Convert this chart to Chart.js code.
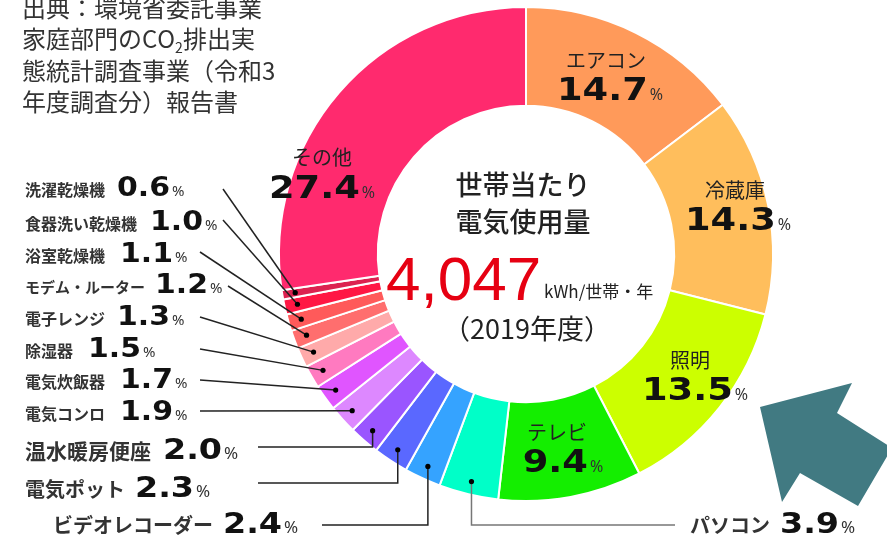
<!DOCTYPE html>
<html lang="ja">
<head>
<meta charset="utf-8">
<script src="https://cdn.jsdelivr.net/npm/chart.js@4.4.0/dist/chart.umd.min.js"></script>
<style>
html, body { margin: 0; padding: 0; background: #fff; }
#wrap { width: 887px; height: 540px; overflow: hidden; }
</style>
</head>
<body>
<div id="wrap"><canvas id="g_denki" width="887" height="540"></canvas></div>
<script>
// 家電別の電気使用量の割合(%) - 12時の位置から時計回り
const kaden = ['エアコン', '冷蔵庫', '照明', 'テレビ', 'パソコン', 'ビデオレコーダー', '電気ポット', '温水暖房便座',
    '電気コンロ', '電気炊飯器', '除湿器', '電子レンジ', 'モデム・ルーター', '浴室乾燥機', '食器洗い乾燥機', '洗濯乾燥機', 'その他'];
const wariai = [14.7, 14.3, 13.5, 9.4, 3.9, 2.4, 2.3, 2.0, 1.9, 1.7, 1.5, 1.3, 1.2, 1.1, 1.0, 0.6, 27.4];
const iro = ['#FF9A5A', '#FFBE5C', '#CCFF00', '#14EE00', '#00FFC8', '#35A3FF', '#5A68FF', '#9A55FF',
    '#DD88FF', '#E055FF', '#FF7AC0', '#FFAAAA', '#FF6E6E', '#FF5A5A', '#FF1744', '#DC2250', '#FF2A6E'];
const total = '4,047';
const unite = 'kWh/世帯・年';
const annee = '（2019年度）';
const titre = ['世帯当たり', '電気使用量'];
const source = ['出典：環境省委託事業', '家庭部門のCO₂排出実', '態統計調査事業（令和3', '年度調査分）報告書'];

// emplacement des étiquettes (mise en page seulement)
const posIn = {
    0: {xn: 606, x: 610, yn: 60, y: 100},
    1: {xn: 735, x: 738, yn: 190, y: 230},
    2: {xn: 690, x: 695, yn: 360, y: 400},
    3: {xn: 557, x: 563, yn: 432, y: 472},
    16: {xn: 322, x: 322, yn: 157, y: 198}
};
const posOut = [
    {i: 15, xn: 25, xv: 117, y: 196, fn: 16, fv: 26, lx: 223, ly: 189},
    {i: 14, xn: 25, xv: 150, y: 230, fn: 16, fv: 26, lx: 223, ly: 220},
    {i: 13, xn: 25, xv: 120, y: 262, fn: 16, fv: 26, lx: 200, ly: 252},
    {i: 12, xn: 25, xv: 155, y: 293, fn: 15, fv: 26, lx: 228, ly: 286},
    {i: 11, xn: 25, xv: 117, y: 325, fn: 16, fv: 26, lx: 200, ly: 317},
    {i: 10, xn: 25, xv: 88, y: 357, fn: 16, fv: 26, lx: 200, ly: 349},
    {i: 9, xn: 25, xv: 120, y: 388, fn: 16, fv: 26, lx: 200, ly: 380},
    {i: 8, xn: 25, xv: 120, y: 420, fn: 16, fv: 26, lx: 200, ly: 411},
    {i: 7, xn: 25, xv: 163, y: 459, fn: 21, fv: 29, lx: 258, ly: 447, coude: true},
    {i: 6, xn: 25, xv: 135, y: 497, fn: 20, fv: 29, lx: 258, ly: 483, coude: true},
    {i: 5, xn: 53, xv: 223, y: 533, fn: 20, fv: 29, lx: 322, ly: 525, coude: true},
    {i: 4, xn: 690, xv: 780, y: 533, fn: 20, fv: 29, lx: 675, ly: 525, coude: true, gris: true}
];
const JP = '"Noto Sans CJK JP", "Noto Sans", sans-serif';

//chiffre large + petit %
function largeur(ctx, val, fv, fp) {
    ctx.font = 'bold ' + fv + 'px "DejaVu Sans"';
    let w = ctx.measureText(val).width * 1.15;
    ctx.font = fp + 'px "Noto Sans"';
    return w + 2 + ctx.measureText('%').width;
}
function valeur(ctx, val, x, y, fv, fp) {
    ctx.save();
    ctx.fillStyle = '#111';
    ctx.textAlign = 'left';
    ctx.textBaseline = 'alphabetic';
    ctx.font = 'bold ' + fv + 'px "DejaVu Sans"';
    let w = ctx.measureText(val).width * 1.15;
    ctx.translate(x, y);
    ctx.scale(1.15, 1);
    ctx.fillText(val, 0, 0);
    ctx.restore();
    ctx.save();
    ctx.fillStyle = '#333';
    ctx.textBaseline = 'alphabetic';
    ctx.font = fp + 'px "Noto Sans"';
    ctx.fillText('%', x + w + 2, y);
    ctx.restore();
}

const etiquettes = {
    id: 'etiquettes',
    afterDraw(chart) {
        const ctx = chart.ctx;
        const arcs = chart.getDatasetMeta(0).data;
        const cx = arcs[0].x, cy = arcs[0].y;

        //flèche décorative
        const fl = [[234, 153], [326, 129], [311, 159], [366, 194], [332, 252], [274, 219], [256, 248]];
        ctx.save();
        ctx.fillStyle = '#417A82';
        ctx.beginPath();
        fl.forEach((p, k) => k ? ctx.lineTo(cx + p[0], cy + p[1]) : ctx.moveTo(cx + p[0], cy + p[1]));
        ctx.closePath();
        ctx.fill();
        ctx.restore();

        //source
        ctx.save();
        ctx.fillStyle = '#333';
        ctx.textBaseline = 'middle';
        ctx.font = '24px ' + JP;
        source.forEach((ligne, k) => {
            let y = 8 + k * 31.3;
            let x = 22;
            for (const c of ligne) {
                if (c === '₂') {
                    ctx.font = '14px ' + JP;
                    ctx.fillText('2', x, y + 8);
                    x += ctx.measureText('2').width;
                    ctx.font = '24px ' + JP;
                } else {
                    ctx.fillText(c, x, y);
                    x += ctx.measureText(c).width;
                }
            }
        });
        ctx.restore();

        //centre
        ctx.save();
        ctx.textAlign = 'center';
        ctx.textBaseline = 'middle';
        ctx.fillStyle = '#222';
        ctx.font = '500 27px ' + JP;
        ctx.fillText(titre[0], cx - 3, 185);
        ctx.fillText(titre[1], cx - 3, 222);
        ctx.font = '27px ' + JP;
        ctx.fillText(annee, cx + 1, 329);
        ctx.textAlign = 'left';
        ctx.textBaseline = 'alphabetic';
        ctx.fillStyle = '#E60012';
        ctx.font = '62px "Liberation Sans"';
        ctx.fillText(total, 386, 300);
        ctx.fillStyle = '#222';
        ctx.font = '17px ' + JP;
        ctx.fillText(unite, 544, 298);
        ctx.restore();

        //étiquettes dans l'anneau
        Object.keys(posIn).forEach(k => {
            const p = posIn[k];
            ctx.save();
            ctx.fillStyle = '#222';
            ctx.textAlign = 'center';
            ctx.textBaseline = 'middle';
            ctx.font = '20px ' + JP;
            ctx.fillText(kaden[k], p.xn, p.yn);
            ctx.restore();
            const v = wariai[k].toFixed(1);
            const w = largeur(ctx, v, 32, 16);
            valeur(ctx, v, p.x - w / 2, p.y, 32, 16);
        });

        //étiquettes à gauche + lignes
        posOut.forEach(p => {
            const a = arcs[p.i];
            const m = (a.startAngle + a.endAngle) / 2;
            const r = a.outerRadius - 13;
            const dx = cx + r * Math.cos(m), dy = cy + r * Math.sin(m);
            ctx.save();
            ctx.strokeStyle = p.gris ? '#777' : '#222';
            ctx.lineWidth = 1.5;
            ctx.beginPath();
            ctx.moveTo(p.lx, p.ly);
            if (p.coude) {
                ctx.lineTo(dx, p.ly);
            }
            ctx.lineTo(dx, dy);
            ctx.stroke();
            ctx.fillStyle = '#000';
            ctx.beginPath();
            ctx.arc(dx, dy, 2.6, 0, Math.PI * 2);
            ctx.fill();
            ctx.fillStyle = '#333';
            ctx.textBaseline = 'alphabetic';
            ctx.font = 'bold ' + p.fn + 'px ' + JP;
            ctx.fillText(kaden[p.i], p.xn, p.y);
            ctx.restore();
            valeur(ctx, wariai[p.i].toFixed(1), p.xv, p.y, p.fv, p.fv > 27 ? 17 : 15);
        });
    }
};

window.addEventListener('load', () => {
    const context = document.getElementById('g_denki').getContext('2d');
    let config = {
        type: 'doughnut',
        data: {
            labels: kaden,
            datasets: [{
                data: wariai,
                backgroundColor: iro,
                borderColor: '#fff',
                borderWidth: 2
            }]
        },
        options: {
            responsive: false,
            animation: false,
            events: [],
            cutout: '60%',
            layout: {padding: {left: 278, right: 113, top: 6, bottom: 38}},
            plugins: {
                legend: {display: false},
                tooltip: {enabled: false}
            }
        },
        plugins: [etiquettes]
    };
    new Chart(context, config);
});
</script>
</body>
</html>
